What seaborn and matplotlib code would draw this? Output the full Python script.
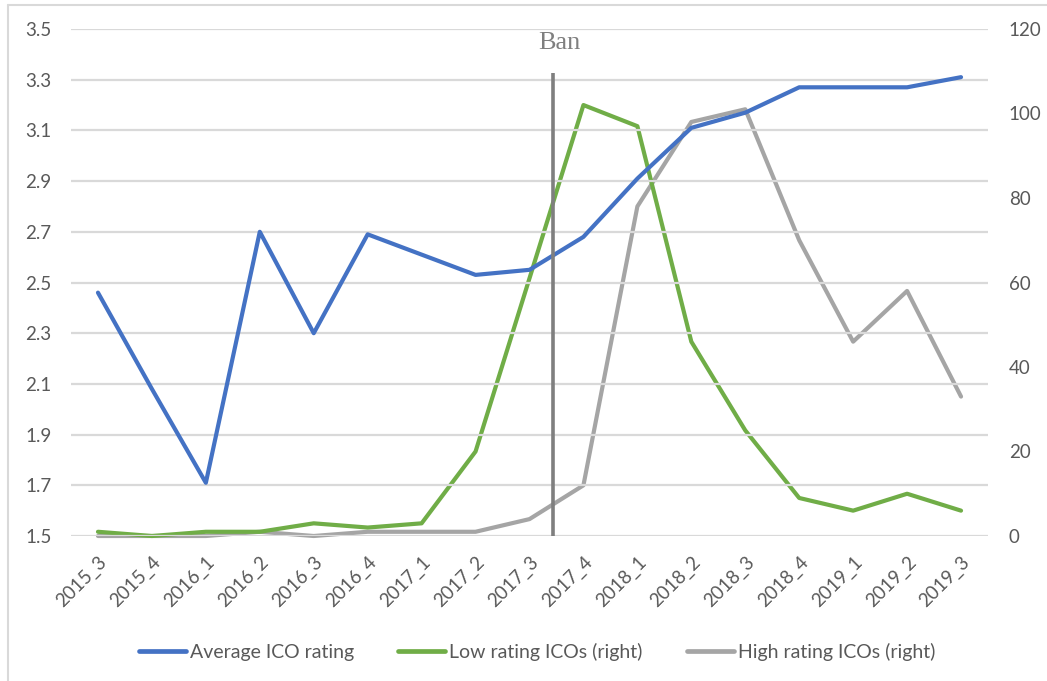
import matplotlib
matplotlib.use("Agg")
import matplotlib.pyplot as plt
from matplotlib.lines import Line2D
import seaborn as sns
import pandas as pd

quarters = ["2015_3", "2015_4", "2016_1", "2016_2", "2016_3", "2016_4",
            "2017_1", "2017_2", "2017_3", "2017_4", "2018_1", "2018_2",
            "2018_3", "2018_4", "2019_1", "2019_2", "2019_3"]
avg_rating = [2.46, 2.08, 1.71, 2.70, 2.30, 2.69, 2.61, 2.53, 2.55, 2.68,
              2.91, 3.11, 3.17, 3.27, 3.27, 3.27, 3.31]
low_rating = [1, 0, 1, 1, 3, 2, 3, 20, 61, 102, 97, 46, 25, 9, 6, 10, 6]
high_rating = [0, 0, 0, 1, 0, 1, 1, 1, 4, 12, 78, 98, 101, 70, 46, 58, 33]
left_ticks = [1.5, 1.7, 1.9, 2.1, 2.3, 2.5, 2.7, 2.9, 3.1, 3.3, 3.5]
right_ticks = [0, 20, 40, 60, 80, 100, 120]
ban_pos = 8.43
ban_label = "Ban"

BLUE, GREEN, GRAY = "#4472C4", "#70AD47", "#A5A5A5"
TXT = "#595959"
GRID = "#D9D9D9"

sns.set_theme(style="white")
plt.rcParams["font.family"] = ["Lato", "DejaVu Sans"]

df = pd.DataFrame({"pos": range(len(quarters)), "quarter": quarters,
                   "avg": avg_rating, "low": low_rating, "high": high_rating})

fig = plt.figure(figsize=(10.47, 6.81), dpi=100)
ax = fig.add_axes([71 / 1047, 1 - 536 / 681, (988 - 71) / 1047, (536 - 29) / 681])
ax2 = ax.twinx()

lw = 3.0
sns.lineplot(data=df, x="pos", y="avg", ax=ax, color=BLUE, linewidth=lw,
             solid_capstyle="round", clip_on=False, zorder=5)
sns.lineplot(data=df, x="pos", y="low", ax=ax2, color=GREEN, linewidth=lw,
             solid_capstyle="round", clip_on=False, zorder=3)
sns.lineplot(data=df, x="pos", y="high", ax=ax2, color=GRAY, linewidth=lw,
             solid_capstyle="round", clip_on=False, zorder=2)

# draw blue series above the twin axes
ax.set_zorder(ax2.get_zorder() + 1)
ax.patch.set_visible(False)

ax.set_xlim(-0.5, len(quarters) - 0.5)
ax.set_ylim(1.5, 3.5)
ax2.set_ylim(0, 120)
ax.set_yticks(left_ticks)
ax.set_yticklabels([f"{v:.1f}" for v in left_ticks])
ax2.set_yticks(right_ticks)
ax2.set_yticklabels([str(v) for v in right_ticks])
ax.set_xticks(range(len(quarters)))
ax.set_xticklabels(quarters, rotation=45, ha="right", va="top",
                   rotation_mode="anchor")

for a in (ax, ax2):
    a.set_xlabel("")
    a.set_ylabel("")
    for s in a.spines.values():
        s.set_visible(False)

ax.tick_params(axis="y", length=0, pad=14, labelsize=13.5, labelcolor=TXT)
ax2.tick_params(axis="y", length=0, pad=15, labelsize=13.5, labelcolor=TXT)
ax.tick_params(axis="x", length=0, pad=12, labelsize=13.5, labelcolor=TXT)

ax.grid(False)
ax2.grid(False)
for v in left_ticks:
    ax.axhline(v, color=GRID, linewidth=1.6, zorder=0)

# regulatory ban marker
ax.vlines(ban_pos, 1.5, 3.326, color="#7F7F7F", linewidth=2.6, zorder=6)
ax.text(ban_pos + 0.12, 3.445, ban_label, ha="center", va="center",
        fontsize=19, color="#7F7F7F", family=["Liberation Serif", "DejaVu Serif"])

handles = [Line2D([], [], color=BLUE, linewidth=3.4),
           Line2D([], [], color=GREEN, linewidth=3.4),
           Line2D([], [], color=GRAY, linewidth=3.4)]
labels = ["Average ICO rating", "Low rating ICOs (right)", "High rating ICOs (right)"]
leg = fig.legend(handles, labels, loc="center", ncol=3, frameon=False,
                 bbox_to_anchor=(537 / 1047, 1 - 652 / 681), fontsize=14,
                 handlelength=2.4, handletextpad=0.2, columnspacing=2.3)
for t in leg.get_texts():
    t.set_color(TXT)

# outer chart frame (top and left edges)
fig.add_artist(Line2D([8 / 1047, 8 / 1047], [0, 1 - 5 / 681],
                      transform=fig.transFigure, color=GRID, linewidth=1.5))
fig.add_artist(Line2D([8 / 1047, 1], [1 - 5 / 681, 1 - 5 / 681],
                      transform=fig.transFigure, color=GRID, linewidth=1.5))

fig.savefig("out.png", dpi=100, facecolor="white")
